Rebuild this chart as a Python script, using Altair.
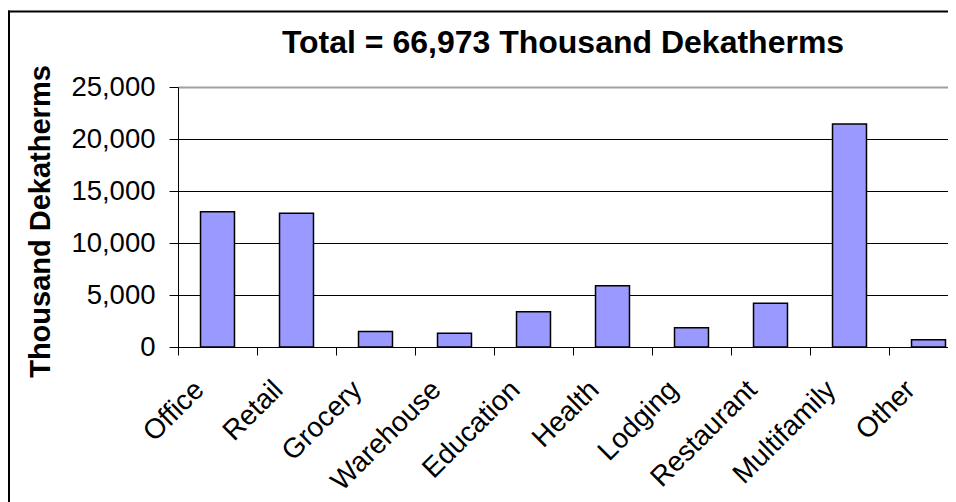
import altair as alt
import pandas as pd

categories = ["Office", "Retail", "Grocery", "Warehouse", "Education",
              "Health", "Lodging", "Restaurant", "Multifamily", "Other"]
values = [13000, 12850, 1480, 1320, 3400, 5900, 1860, 4200, 21450, 700]
y_ticks = [0, 5000, 10000, 15000, 20000, 25000]
title_text = "Total = 66,973 Thousand Dekatherms"
y_title = "Thousand Dekatherms"

df = pd.DataFrame({"category": categories, "value": values})
frame_df = pd.DataFrame({"k": [0]})

FONT = "Liberation Sans"

bars = alt.Chart(df).mark_bar(
    color="#9999FF", stroke="black", strokeWidth=1.5,
    width=alt.RelativeBandSize(0.43)
).encode(
    x=alt.X("category:N", sort=categories, title=None,
            scale=alt.Scale(paddingInner=0, paddingOuter=0),
            axis=alt.Axis(labelAngle=315, labelAlign="right",
                          labelBaseline="alphabetic", labelFontSize=28,
                          labelFont=FONT, labelColor="black",
                          labelPadding=36, labelOffset=-12,
                          labelOverlap=False, labelBound=False,
                          labelFlush=False, tickSize=8, tickColor="black",
                          domainColor="black", bandPosition=0, grid=False)),
    y=alt.Y("value:Q", title=y_title,
            scale=alt.Scale(domain=[0, 25000], nice=False),
            axis=alt.Axis(values=y_ticks, format=",d", labelFontSize=27.5,
                          labelFont=FONT, labelColor="black", labelPadding=14,
                          tickSize=9, tickColor="black", domainColor="black",
                          gridColor={"condition": {"test": "datum.value === 25000", "value": "#a0a0a0"}, "value": "black"},
                          gridWidth={"condition": {"test": "datum.value === 25000", "value": 2}, "value": 1},
                          titleFontSize=29, titleFont=FONT, titleFontWeight="bold",
                          titleColor="black", titleX=-138, titleY=134,
                          titleAngle=270, titleBaseline="middle",
                          titleAlign="center")),
)

top_rule = alt.Chart(frame_df).mark_rule(color="black", strokeWidth=2).encode(
    x=alt.value(-170), x2=alt.value(800), y=alt.value(-75.5))
left_rule = alt.Chart(frame_df).mark_rule(color="black", strokeWidth=2).encode(
    x=alt.value(-169), y=alt.value(-76.5), y2=alt.value(420))

chart = alt.layer(bars, top_rule, left_rule).properties(
    width=790, height=260,
    padding={"left": 170, "top": 79, "right": -20, "bottom": 155},
    autosize=alt.AutoSizeParams(type="none"),
    title=alt.TitleParams(text=title_text, fontSize=32, font=FONT,
                          fontWeight="bold", color="black", anchor="middle",
                          frame="group", offset=-75.5, baseline="alphabetic",
                          dx=-10),
).configure_view(stroke=None)

chart.save("out.html", embed_options={"renderer": "svg", "actions": False})
